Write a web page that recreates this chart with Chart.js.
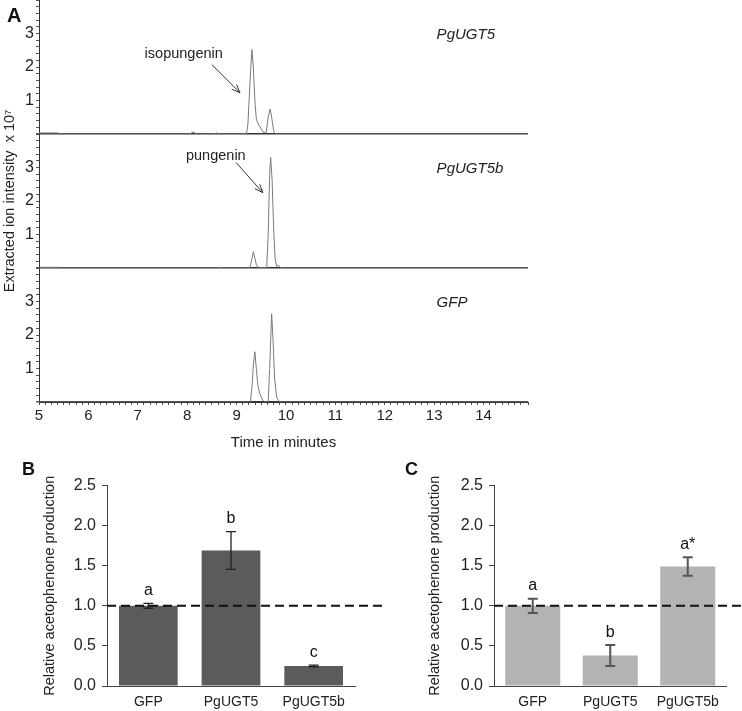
<!DOCTYPE html>
<html>
<head>
<meta charset="utf-8">
<script src="https://cdn.jsdelivr.net/npm/chart.js@4.4.1/dist/chart.umd.min.js"></script>
<style>
  body { margin: 0; background: #fff; width: 742px; height: 711px; position: relative; overflow: hidden; font-family: "Liberation Sans", Arial, sans-serif; }
  .box { position: absolute; }
  .panel { position: absolute; font-weight: bold; color: #111; line-height: 1; }
</style>
</head>
<body>
<div class="box" style="left:0;top:0;width:560px;height:455px"><canvas id="chartA"></canvas></div>
<div class="box" style="left:0;top:470px;width:384px;height:241px"><canvas id="chartB"></canvas></div>
<div class="box" style="left:390px;top:470px;width:352px;height:241px"><canvas id="chartC"></canvas></div>
<div class="panel" style="left:7px;top:5px;font-size:20px">A</div>
<div class="panel" style="left:22px;top:460px;font-size:18px">B</div>
<div class="panel" style="left:405px;top:460px;font-size:18px">C</div>
<script>
// --- panel A: extracted ion chromatograms (intensity x 10^7 vs minutes)
const timeUGT5 = [5, 5.4, 5.42, 8.05, 8.12, 8.2, 8.55, 8.6, 8.65, 9.2, 9.23, 9.27, 9.31, 9.34, 9.37, 9.4, 9.44, 9.5, 9.55, 9.6, 9.64, 9.68, 9.71, 9.75, 9.78, 14.9];
const intUGT5  = [0.03, 0.03, 0, 0, 0.06, 0, 0, 0.03, 0, 0, 0.3, 1.5, 2.52, 2.0, 1.0, 0.45, 0.3, 0.15, 0.03, 0.05, 0.5, 0.75, 0.5, 0.1, 0, 0];

const timeUGT5b = [5, 5.4, 5.42, 8.6, 8.65, 8.7, 9.27, 9.3, 9.34, 9.37, 9.4, 9.44, 9.61, 9.64, 9.67, 9.69, 9.72, 9.75, 9.78, 9.81, 9.85, 9.9, 14.9];
const intUGT5b  = [0.02, 0.02, 0, 0, 0.02, 0, 0, 0.2, 0.49, 0.3, 0.1, 0, 0, 1.0, 2.8, 3.3, 2.6, 1.2, 0.3, 0.05, 0.08, 0, 0];

const timeGFP = [5, 9.28, 9.31, 9.34, 9.37, 9.4, 9.43, 9.47, 9.53, 9.58, 9.64, 9.67, 9.71, 9.74, 9.77, 9.81, 9.86, 9.9, 14.9];
const intGFP  = [0, 0, 0.4, 1.1, 1.5, 1.0, 0.5, 0.25, 0.05, 0, 0, 1.0, 2.63, 1.8, 0.7, 0.15, 0.02, 0, 0];

const timeTicks = [5, 6, 7, 8, 9, 10, 11, 12, 13, 14];
const intensityTicks = [1, 2, 3];

// --- panels B and C: relative acetophenone production
const groups = ['GFP', 'PgUGT5', 'PgUGT5b'];
const meanB = [1.0, 1.69, 0.25];
const errB = [0.03, 0.235, 0.01];
const letterB = ['a', 'b', 'c'];
const meanC = [1.0, 0.38, 1.49];
const errC = [0.09, 0.13, 0.115];
const letterC = ['a', 'b', 'a*'];
const refLevel = 1.0;
const productionTicks = [0, 0.5, 1.0, 1.5, 2.0, 2.5];

const FONT = '"Liberation Sans", Arial, sans-serif';
Chart.defaults.font.family = FONT;
Chart.defaults.color = '#222';

const near = (list, v) => list.some(t => Math.abs(t - v) < 1e-6);
const toXY = (xs, ys) => xs.map((x, i) => ({ x, y: ys[i] }));

function traceAxis(withTitle) {
  return {
    type: 'linear', position: 'left', stack: 'traces', stackWeight: 1,
    min: 0, max: 4,
    afterFit: s => { s.width = 39; s.paddingTop = 0; s.paddingBottom = 0; },
    border: { color: '#333', width: 1 },
    grid: {
      drawOnChartArea: true,
      color: c => (c.tick && c.tick.value === 0 ? '#333' : 'rgba(0,0,0,0)'),
      lineWidth: c => (c.tick && c.tick.value === 0 ? 1.5 : 1),
      tickLength: 3, tickColor: '#555'
    },
    ticks: {
      stepSize: 0.2, autoSkip: false, padding: 2, font: { size: 16 },
      callback: v => (near(intensityTicks, v) ? String(Math.round(v)) : '')
    },
    title: { display: withTitle, text: 'Extracted ion intensity  x 10\u2077', font: { size: 14.5 }, padding: { top: 1, bottom: 0 } }
  };
}

function arrow(ctx, x1, y1, x2, y2) {
  const a = Math.atan2(y2 - y1, x2 - x1), h = 9, s = 0.38;
  ctx.beginPath();
  ctx.moveTo(x1, y1); ctx.lineTo(x2, y2);
  ctx.moveTo(x2 - h * Math.cos(a - s), y2 - h * Math.sin(a - s));
  ctx.lineTo(x2, y2);
  ctx.lineTo(x2 - h * Math.cos(a + s), y2 - h * Math.sin(a + s));
  ctx.stroke();
}

const traceNotes = {
  id: 'traceNotes',
  afterDatasetsDraw(chart) {
    const { ctx, scales } = chart;
    const x = scales.x;
    ctx.save();
    ctx.fillStyle = '#222';
    ctx.strokeStyle = '#333';
    ctx.lineWidth = 1;
    ctx.textBaseline = 'middle';
    ctx.font = 'italic 15px ' + FONT;
    ctx.textAlign = 'left';
    [['PgUGT5', 'yTop'], ['PgUGT5b', 'yMid'], ['GFP', 'yBot']].forEach(([t, id]) => {
      ctx.fillText(t, x.getPixelForValue(13.05), scales[id].getPixelForValue(2.95));
    });
    ctx.font = '14.5px ' + FONT;
    ctx.textAlign = 'center';
    ctx.fillText('isopungenin', x.getPixelForValue(7.93), scales.yTop.getPixelForValue(2.4));
    ctx.fillText('pungenin', x.getPixelForValue(8.58), scales.yMid.getPixelForValue(3.33));
    arrow(ctx, x.getPixelForValue(8.5), scales.yTop.getPixelForValue(2.07),
               x.getPixelForValue(9.07), scales.yTop.getPixelForValue(1.23));
    arrow(ctx, x.getPixelForValue(8.99), scales.yMid.getPixelForValue(3.15),
               x.getPixelForValue(9.53), scales.yMid.getPixelForValue(2.25));
    ctx.restore();
  }
};

const traceStyle = { borderColor: '#7a7a7a', borderWidth: 1, pointRadius: 0, tension: 0, fill: false };

new Chart(document.getElementById('chartA'), {
  type: 'line',
  data: {
    datasets: [
      { ...traceStyle, data: toXY(timeUGT5, intUGT5), yAxisID: 'yTop' },
      { ...traceStyle, data: toXY(timeUGT5b, intUGT5b), yAxisID: 'yMid' },
      { ...traceStyle, data: toXY(timeGFP, intGFP), yAxisID: 'yBot' }
    ]
  },
  options: {
    responsive: true, maintainAspectRatio: false, animation: false,
    layout: { padding: { left: 0, right: 32, top: 0, bottom: 1 } },
    plugins: { legend: { display: false }, tooltip: { enabled: false } },
    scales: {
      x: {
        type: 'linear', min: 5, max: 14.9,
        afterFit: s => { s.height = 52; s.paddingLeft = 0; s.paddingRight = 0; },
        border: { color: '#333', width: 1 },
        grid: { drawOnChartArea: false, tickLength: 3, tickColor: '#555' },
        ticks: {
          stepSize: 0.125, autoSkip: false, maxRotation: 0, padding: 2, font: { size: 15 },
          callback: v => (near(timeTicks, v) ? String(Math.round(v)) : '')
        },
        title: { display: true, text: 'Time in minutes', font: { size: 15 }, padding: { top: 0, bottom: 2 } }
      },
      // left-hand stacked axes are laid out in reverse order: the last one sits on top
      yBot: traceAxis(false),
      yMid: traceAxis(true),
      yTop: traceAxis(false)
    }
  },
  plugins: [traceNotes]
});

function barExtras(means, errs, letters, errColor, errWidth) {
  return {
    id: 'barExtras',
    afterDatasetsDraw(chart) {
      const { ctx, chartArea } = chart;
      const y = chart.scales.y;
      const meta = chart.getDatasetMeta(0);
      ctx.save();
      const yr = y.getPixelForValue(refLevel);
      ctx.strokeStyle = '#111';
      ctx.lineWidth = 2;
      ctx.setLineDash([9, 5]);
      ctx.beginPath();
      ctx.moveTo(chartArea.left, yr);
      ctx.lineTo(chart.width - 1, yr);
      ctx.stroke();
      ctx.setLineDash([]);
      ctx.strokeStyle = errColor;
      ctx.lineWidth = errWidth;
      ctx.fillStyle = '#111';
      ctx.font = '16px ' + FONT;
      ctx.textAlign = 'center';
      ctx.textBaseline = 'bottom';
      meta.data.forEach((bar, i) => {
        const top = y.getPixelForValue(means[i] + errs[i]);
        const bot = y.getPixelForValue(means[i] - errs[i]);
        const cx = bar.x;
        ctx.beginPath();
        ctx.moveTo(cx, top); ctx.lineTo(cx, bot);
        ctx.moveTo(cx - 5, top); ctx.lineTo(cx + 5, top);
        ctx.moveTo(cx - 5, bot); ctx.lineTo(cx + 5, bot);
        ctx.stroke();
        ctx.fillText(letters[i], cx, top - 5);
      });
      ctx.restore();
    }
  };
}

function barChart(id, means, errs, letters, color, errColor, errWidth, pad, yWidth) {
  return new Chart(document.getElementById(id), {
    type: 'bar',
    data: {
      labels: groups,
      datasets: [{ data: means, backgroundColor: color, borderWidth: 0, barPercentage: 0.71, categoryPercentage: 1 }]
    },
    options: {
      responsive: true, maintainAspectRatio: false, animation: false,
      layout: { padding: pad },
      plugins: { legend: { display: false }, tooltip: { enabled: false } },
      scales: {
        x: {
          afterFit: s => { s.height = 25; },
          border: { color: '#444', width: 1 },
          grid: { display: true, drawOnChartArea: false, drawTicks: false },
          ticks: { padding: 8, font: { size: 14 } }
        },
        y: {
          min: 0, max: 2.5,
          afterFit: s => { s.width = yWidth; },
          border: { color: '#444', width: 1 },
          grid: { drawOnChartArea: false, tickLength: 5, tickColor: '#444' },
          ticks: {
            stepSize: 0.5, padding: 6, font: { size: 16 },
            callback: v => (near(productionTicks, v) ? v.toFixed(1) : '')
          },
          title: { display: true, text: 'Relative acetophenone production', font: { size: 14.5 }, padding: { top: 1, bottom: 0 } }
        }
      }
    },
    plugins: [barExtras(means, errs, letters, errColor, errWidth)]
  });
}

barChart('chartB', meanB, errB, letterB, '#5b5b5b', '#222', 1.3, { left: 40, right: 29, top: 12, bottom: 0 }, 67);
barChart('chartC', meanC, errC, letterC, '#b3b3b3', '#555', 2, { left: 35, right: 15.5, top: 12, bottom: 0 }, 69);
</script>
</body>
</html>
